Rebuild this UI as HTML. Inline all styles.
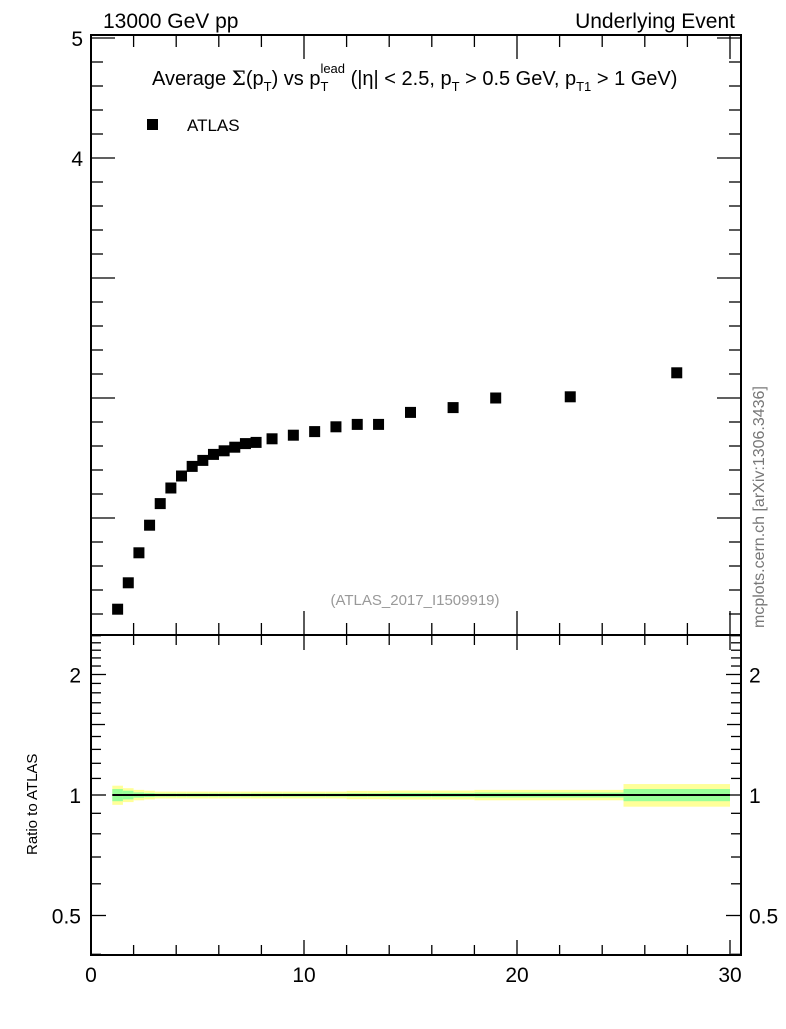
<!DOCTYPE html>
<html><head><meta charset="utf-8"><style>
body{margin:0;background:#fff;}
svg text{font-family:"Liberation Sans",sans-serif;}
</style></head><body>
<svg id="c" width="786" height="1024" viewBox="0 0 786 1024" xmlns="http://www.w3.org/2000/svg">
<rect width="786" height="1024" fill="#fff"/>
<g id="bands"></g>
<g id="marks"></g>
<g id="axes" stroke="#000" fill="none"></g>
<text x="103" y="28" font-size="21">13000 GeV pp</text>
<text x="735" y="28" font-size="21" text-anchor="end">Underlying Event</text>
<text x="152" y="85" font-size="20">Average <tspan font-family="DejaVu Serif">Σ</tspan>(p<tspan font-size="13" dy="6">T</tspan><tspan dy="-6">) vs p</tspan><tspan font-size="13" dy="6">T</tspan><tspan font-size="13" dx="-8" dy="-18">lead</tspan><tspan dy="12"> (|η| &lt; 2.5, p</tspan><tspan font-size="13" dy="6">T</tspan><tspan dy="-6"> &gt; 0.5 GeV, p</tspan><tspan font-size="13" dy="6">T1</tspan><tspan dy="-6"> &gt; 1 GeV)</tspan></text>
<rect x="147" y="119" width="11" height="11" fill="#000"/>
<text x="187" y="131" font-size="17">ATLAS</text>
<text x="415" y="605" font-size="15" fill="#999" text-anchor="middle">(ATLAS_2017_I1509919)</text>
<text x="0" y="0" font-size="16" fill="#777" transform="translate(764,628) rotate(-90)">mcplots.cern.ch [arXiv:1306.3436]</text>
<text x="0" y="0" font-size="15" transform="translate(37,855) rotate(-90)">Ratio to ATLAS</text>
</svg>
<script>
const xVals=[1.25,1.75,2.25,2.75,3.25,3.75,4.25,4.75,5.25,5.75,6.25,6.75,7.25,7.75,8.5,9.5,10.5,11.5,12.5,13.5,15,17,19,22.5,27.5];
const xLo=[1,1.5,2,2.5,3,3.5,4,4.5,5,5.5,6,6.5,7,7.5,8,9,10,11,12,13,14,16,18,20,25];
const xHi=[1.5,2,2.5,3,3.5,4,4.5,5,5.5,6,6.5,7,7.5,8,9,10,11,12,13,14,16,18,20,25,30];
const yVals=[0.24,0.46,0.71,0.94,1.12,1.25,1.35,1.43,1.48,1.53,1.56,1.59,1.62,1.63,1.66,1.69,1.72,1.76,1.78,1.78,1.88,1.92,2.0,2.01,2.21];
const statErr=[0.035,0.025,0.015,0.012,0.009,0.009,0.009,0.009,0.009,0.009,0.009,0.009,0.009,0.009,0.009,0.009,0.009,0.009,0.01,0.01,0.012,0.012,0.014,0.014,0.035];
const totErr=[0.055,0.04,0.03,0.025,0.02,0.02,0.02,0.02,0.02,0.02,0.02,0.02,0.02,0.02,0.02,0.02,0.02,0.02,0.024,0.024,0.026,0.026,0.03,0.03,0.065];
const yTicks=[4,5];
const rTicks=[0.5,1,2];
const xTicks=[0,10,20,30];
const NS="http://www.w3.org/2000/svg";
const L=91,R=741,T=35,B=635,RT=635,RB=955;
const X=v=>L+(v-0)*(730-91)/30;
const Y=v=>158-(v-4)*120;
const RY=v=>795-Math.log2(v)*120.5;
function mk(tag,attrs,parent){const e=document.createElementNS(NS,tag);for(const k in attrs)e.setAttribute(k,attrs[k]);document.getElementById(parent).appendChild(e);return e;}
for(let i=0;i<xVals.length;i++){
 let e=mk('rect',{x:X(xLo[i]),y:RY(1+totErr[i]),width:X(xHi[i])-X(xLo[i]),height:RY(1-totErr[i])-RY(1+totErr[i]),fill:'#ffff99'},'bands');
 
 
 let g=mk('rect',{x:X(xLo[i]),y:RY(1+statErr[i]),width:X(xHi[i])-X(xLo[i]),height:RY(1-statErr[i])-RY(1+statErr[i]),fill:'#99ff99'},'bands');
 
 
}
let rl=mk('line',{x1:X(1),x2:X(30),y1:RY(1),y2:RY(1),stroke:'#000','stroke-width':2},'marks');


for(let i=0;i<xVals.length;i++){
 let p=mk('rect',{x:X(xVals[i])-5.5,y:Y(yVals[i])-5.5,width:11,height:11,fill:'#000'},'marks');
 
 
}
for(const [t,b,n] of [[T,B,'main-frame'],[RT,RB,'ratio-frame']]){
 let f=mk('rect',{x:L,y:t,width:R-L,height:b-t,'stroke-width':2},'axes');
 
 
}
function tick(x1,y1,x2,y2){mk('line',{x1,y1,x2,y2,'stroke-width':1.3},'axes');}
for(let k=1;k<=25;k++){const v=k*0.2;const y=Y(v);if(y<T||y>B)continue;const major=k%5===0;const len=major?24:12;tick(L,y,L+len,y);tick(R,y,R-len,y);}
for(const v of yTicks){let t=mk('text',{x:L-8,y:Y(v)+8,'font-size':21,'text-anchor':'end',fill:'#000',stroke:'none'},'axes');t.textContent=v;}
const rMinor=[0.4,0.6,0.7,0.8,0.9,1.1,1.2,1.3,1.4,1.6,1.7,1.8,1.9,2.1,2.2,2.3,2.4,2.5];
for(const v of rMinor){const y=RY(v);if(y<RT||y>RB)continue;tick(L,y,L+10,y);tick(R,y,R-10,y);}
{const y=RY(1.5);tick(L,y,L+14,y);tick(R,y,R-14,y);}
for(const v of rTicks){const y=RY(v);tick(L,y,L+15,y);tick(R,y,R-15,y);
 let t=mk('text',{x:L-10,y:y+8,'font-size':21,'text-anchor':'end',fill:'#000',stroke:'none'},'axes');t.textContent=v;
 let t2=mk('text',{x:R+8,y:y+8,'font-size':21,fill:'#000',stroke:'none'},'axes');t2.textContent=v;}
for(let v=0;v<=30;v+=2){const x=X(v);const major=v%10===0;
 let len=major?24:12; tick(x,B,x,B-len);tick(x,T,x,T+len);
 len=major?15:10; tick(x,RB,x,RB-len);tick(x,RT,x,RT+len);}
for(const v of xTicks){let t=mk('text',{x:X(v),y:RB+27,'font-size':21,'text-anchor':'middle',fill:'#000',stroke:'none'},'axes');t.textContent=v;}
</script>
</body></html>
